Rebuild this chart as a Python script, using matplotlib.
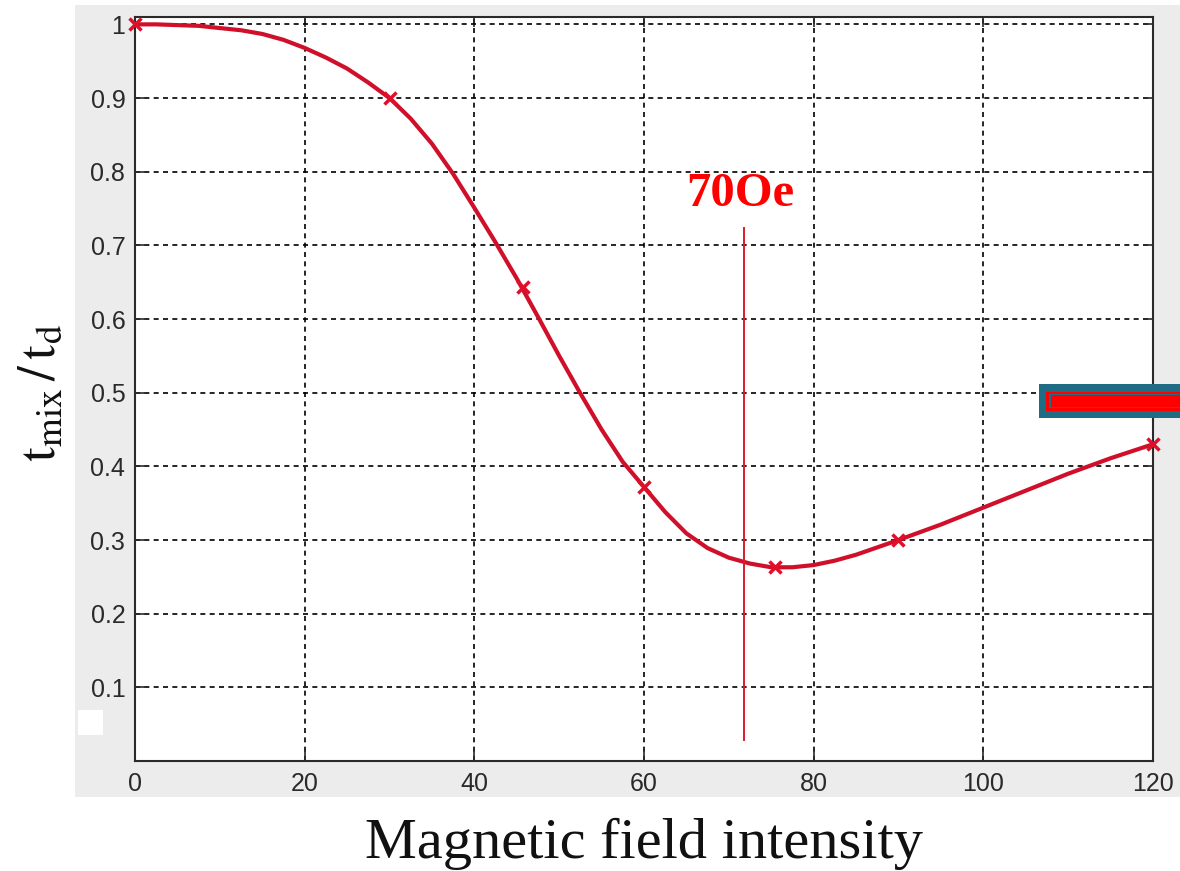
import matplotlib
matplotlib.use("Agg")
import matplotlib.pyplot as plt
from matplotlib.patches import Rectangle

# Fitted curve of mixing-time ratio vs. magnetic field (Oe)
field_curve = [0, 2.5, 5, 7.5, 10, 12.5, 15, 17.5, 20, 22.5, 25, 27.5, 30, 32.5,
               35, 37.5, 40, 42.5, 45, 47.5, 50, 52.5, 55, 57.5, 60, 62.5, 65,
               67.5, 70, 72.5, 75, 77.5, 80, 82.5, 85, 87.5, 90, 95, 100, 105,
               110, 115, 120]
ratio_curve = [1.0, 1.0, 0.999, 0.998, 0.995, 0.992, 0.987, 0.979, 0.968, 0.955,
               0.94, 0.921, 0.9, 0.872, 0.838, 0.797, 0.751, 0.704, 0.655,
               0.603, 0.55, 0.499, 0.45, 0.406, 0.372, 0.338, 0.309, 0.289,
               0.276, 0.268, 0.263, 0.263, 0.266, 0.272, 0.28, 0.29, 0.3, 0.321,
               0.344, 0.367, 0.39, 0.411, 0.43]

# Measured points
field_pts = [0, 30, 45.7, 60, 75.5, 90, 120]
ratio_pts = [1.0, 0.9, 0.643, 0.372, 0.263, 0.3, 0.43]

x_ticks = [0, 20, 40, 60, 80, 100, 120]
y_ticks = [0.1, 0.2, 0.3, 0.4, 0.5, 0.6, 0.7, 0.8, 0.9, 1.0]
y_ticklabels = ["0.1", "0.2", "0.3", "0.4", "0.5", "0.6", "0.7", "0.8", "0.9", "1"]

marker_field = 71.8
marker_span = (0.028, 0.723)
marker_label = "70Oe"

plt.rcParams["mathtext.fontset"] = "stix"

W, H = 1180, 871
fig = plt.figure(figsize=(W / 100, H / 100), dpi=100)
fig.patch.set_facecolor("white")


def fig_rect(x0, y0, x1, y1, color, z):
    """Rectangle given in pixel coordinates measured from the top-left."""
    fig.patches.append(Rectangle((x0 / W, 1 - y1 / H), (x1 - x0) / W, (y1 - y0) / H,
                                 transform=fig.transFigure, facecolor=color,
                                 edgecolor="none", zorder=z))


# grey figure panel behind the axes
fig_rect(75, 5, W, 797, "#ececec", -2)
fig_rect(78, 710, 103, 735, "white", -1)

ax_l, ax_r = 135 / W, 1153 / W
ax_b, ax_t = 1 - 761 / H, 1 - 17 / H
ax = fig.add_axes([ax_l, ax_b, ax_r - ax_l, ax_t - ax_b])
ax.set_zorder(1)
ax.set_facecolor("white")
ax.set_xlim(0, 120)
ax.set_ylim(0, 1.01)

ax.set_xticks(x_ticks)
ax.set_xticklabels([str(v) for v in x_ticks])
ax.set_yticks(y_ticks)
ax.set_yticklabels(y_ticklabels)
ax.tick_params(direction="in", length=7, width=1.2, color="#2a2a2a",
               labelsize=18, labelcolor="#2a2a2a", top=True, right=True)
ax.tick_params(axis="x", pad=8)
ax.tick_params(axis="y", pad=7)
for lab in ax.get_xticklabels() + ax.get_yticklabels():
    lab.set_fontfamily("Liberation Sans")
for sp in ax.spines.values():
    sp.set_color("#2a2a2a")
    sp.set_linewidth(1.5)

ax.grid(True, color="black", linestyle=(0, (3, 2.6)), linewidth=1.2)
ax.set_axisbelow(True)

ax.plot(field_curve, ratio_curve, color="#d0102a", linewidth=3.0, zorder=3,
        solid_joinstyle="round", solid_capstyle="round")
ax.plot(field_pts, ratio_pts, linestyle="none", marker="x", markersize=8,
        markeredgewidth=2.5, color="#e0102a", zorder=4, clip_on=False)

ax.plot([marker_field, marker_field], marker_span, color="#dd1a2a",
        linewidth=1.4, zorder=3)
ax.text(71.3, 0.77, marker_label, color="#ff0000", fontsize=35,
        fontweight="bold", family="Liberation Serif", ha="center", va="center",
        zorder=5)

# overlay bar on the right edge
ov = fig.add_axes([0, 0, 1, 1], facecolor="none")
ov.set_zorder(2)
ov.set_axis_off()
ov.set_xlim(0, W)
ov.set_ylim(H, 0)
for (x0, y0, x1, y1, c) in [(1039, 384, W, 418, "#1f6c84"),
                            (1046, 392, W, 411, "#ff0000"),
                            (1049, 394, W, 408, "#1f6c84"),
                            (1051, 395, W, 407, "#ff0000")]:
    ov.add_patch(Rectangle((x0, y0), x1 - x0, y1 - y0, facecolor=c,
                           edgecolor="none"))

fig.text(644 / W, 1 - 858 / H, "Magnetic field intensity", ha="center",
         va="baseline", fontsize=42, family="Liberation Serif", color="#111111")
fig.text(40 / W, 1 - 393 / H, r"$\mathrm{t_{mix}\,/\,t_d}$", ha="center",
         va="center", rotation=90, fontsize=38, color="#111111")

fig.savefig("out.png", dpi=100, facecolor="white")
